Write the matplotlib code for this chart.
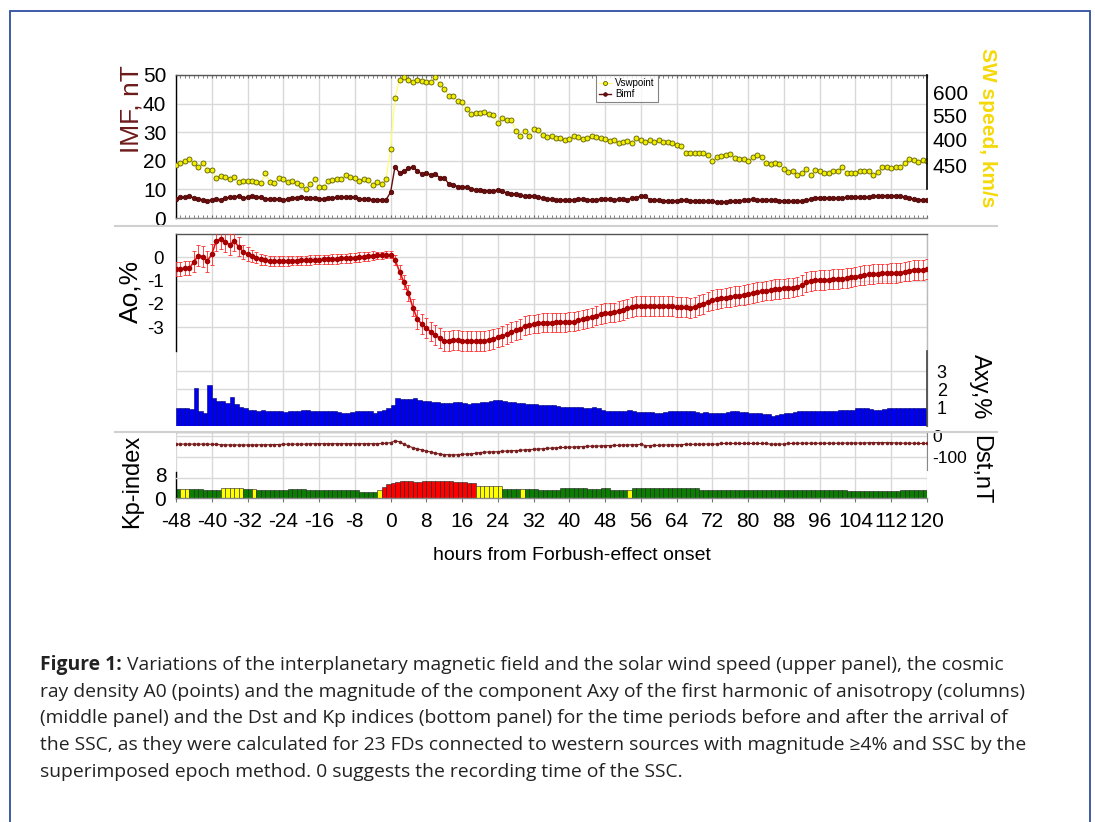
import numpy as np
import matplotlib
matplotlib.use("Agg")
import matplotlib.pyplot as plt
from matplotlib.patches import Rectangle
from matplotlib.lines import Line2D
from matplotlib.ticker import MultipleLocator

plt.rcParams['font.family'] = ['Liberation Sans', 'DejaVu Sans']
plt.rcParams['axes.unicode_minus'] = False

# ---- data (hourly, -48 .. 120 h from the Forbush-effect onset) ----
hours = list(range(-48, 121))
xticks = list(range(-48, 121, 8))

# solar wind speed, drawn on the IMF scale of the upper panel
vsw = [18.6, 19.2, 19.8, 20.7, 19.2, 18.0, 19.4, 16.9, 16.9, 14.0,
       14.8, 14.2, 13.7, 14.2, 12.6, 13.1, 12.9, 12.8, 12.6, 12.2,
       15.6, 12.6, 12.4, 14.0, 13.7, 12.7, 12.8, 12.2, 11.4, 10.2,
       12.0, 13.6, 10.7, 11.0, 13.1, 13.4, 13.6, 13.7, 14.9, 14.3,
       14.0, 12.8, 13.7, 13.4, 11.6, 12.6, 11.9, 13.7,
       24.2, 42.1, 48.3, 49.4, 48.3, 47.7, 48.3, 48.0, 47.6, 47.6,
       49.2, 46.7, 45.1, 42.7, 42.8, 40.9, 40.5, 38.0, 36.4, 36.6,
       36.6, 37.2, 36.4, 36.0, 33.1, 34.9, 34.3, 34.3, 30.5, 28.7,
       30.5, 28.7, 31.0, 30.6, 29.1, 28.3,
       28.7, 28.1, 27.9, 27.1, 27.7, 28.7, 28.3, 27.6, 28.1, 28.5,
       28.3, 28.1, 27.7, 27.0, 27.3, 26.2, 26.7, 27.0, 26.2, 27.9,
       27.1, 26.5, 27.3, 26.7, 27.1, 26.7, 26.4, 26.2, 25.6, 25.0,
       22.9, 22.7, 22.7, 22.9, 22.7, 22.1, 20.1, 21.3, 21.7, 21.9,
       22.3, 20.9, 20.7, 20.6, 20.1, 21.5, 22.1, 21.3, 19.2, 19.0,
       19.4, 19.0, 17.1, 16.0, 16.5, 15.1, 15.7, 17.1, 15.1, 16.9,
       16.3, 15.7, 15.7, 16.6, 16.3, 17.8, 15.7, 15.7, 15.7, 16.6,
       16.3, 16.6, 14.9, 16.0, 17.8, 17.8, 17.4, 17.8, 18.0, 19.2,
       20.6, 20.3, 19.5, 20.3, 20.1]

bimf = [6.6, 7.2, 7.2, 7.6, 7.0, 6.6, 6.4, 6.0, 6.4, 6.6,
        6.4, 7.0, 7.2, 7.2, 7.8, 7.0, 7.2, 7.6, 7.2, 7.2,
        6.6, 6.6, 6.6, 6.6, 6.4, 6.6, 7.0, 7.0, 7.2, 7.0,
        7.0, 7.0, 6.6, 6.6, 7.0, 7.0, 7.2, 7.2, 7.3, 7.2,
        7.2, 6.6, 6.6, 6.6, 6.4, 6.4, 6.4, 6.4,
        9.0, 18.0, 15.7, 16.3, 17.4, 17.8, 16.6, 15.3, 15.7, 15.1,
        15.5, 14.0, 14.0, 12.0, 11.7, 11.0, 11.0, 10.7, 10.2, 9.9,
        9.7, 9.6, 9.6, 9.3, 9.9, 9.3, 8.7, 8.5, 8.4, 7.9,
        7.6, 7.6, 7.6, 7.3, 7.0, 6.6,
        6.6, 6.4, 6.2, 6.2, 6.2, 6.4, 6.6, 6.6, 6.4, 6.4,
        6.4, 6.6, 6.6, 6.6, 6.4, 6.6, 6.6, 6.4, 7.0, 7.0,
        7.8, 7.6, 6.4, 6.2, 6.2, 6.0, 6.0, 6.0, 6.0, 6.2,
        6.2, 6.0, 6.0, 5.8, 5.8, 5.8, 5.8, 5.6, 5.6, 5.6,
        5.8, 5.8, 6.0, 6.2, 6.4, 6.6, 6.2, 6.2, 6.2, 6.2,
        6.2, 6.0, 6.0, 5.8, 5.8, 5.8, 5.8, 6.2, 6.6, 7.0,
        7.0, 7.0, 7.0, 7.0, 7.0, 7.0, 7.2, 7.2, 7.2, 7.2,
        7.3, 7.3, 7.6, 7.6, 7.8, 7.8, 7.8, 7.8, 7.6, 7.3,
        7.0, 6.6, 6.4, 6.4, 6.4]

a0 = [-0.51, -0.50, -0.47, -0.47, -0.19, 0.07, 0.03, -0.16, 0.13, 0.70,
      0.79, 0.67, 0.53, 0.70, 0.46, 0.24, 0.13, 0.06, -0.01, -0.09,
      -0.11, -0.16,
      -0.16, -0.16, -0.16, -0.16, -0.14, -0.14, -0.13, -0.13, -0.11, -0.10,
      -0.10, -0.09, -0.09, -0.07, -0.07, -0.04, -0.04, -0.03, -0.01, 0.01,
      0.03, 0.04, 0.07, 0.09, 0.09, 0.10,
      0.10, -0.11, -0.61, -1.07, -1.54, -2.16, -2.66, -2.87, -3.04, -3.19,
      -3.33, -3.47, -3.59, -3.59, -3.56, -3.54, -3.59, -3.59, -3.59, -3.61,
      -3.61, -3.59, -3.54, -3.50, -3.44, -3.37, -3.30, -3.21, -3.14, -3.07,
      -2.94, -2.90, -2.87, -2.83, -2.81, -2.80,
      -2.80, -2.79, -2.79, -2.79, -2.76, -2.76, -2.71, -2.66, -2.61, -2.57,
      -2.50, -2.44, -2.40, -2.37, -2.36, -2.30, -2.26, -2.19, -2.14, -2.10,
      -2.09, -2.09, -2.09, -2.09, -2.10, -2.10, -2.10, -2.11, -2.13, -2.14,
      -2.14, -2.16, -2.13, -2.04, -1.99, -1.90, -1.84, -1.79, -1.76, -1.73,
      -1.70, -1.67, -1.64, -1.61, -1.57, -1.54, -1.50, -1.46, -1.43, -1.40,
      -1.37, -1.36, -1.33, -1.31, -1.30, -1.26, -1.19, -1.07, -1.01, -0.99,
      -0.97, -0.97, -0.96, -0.94, -0.93, -0.91, -0.90, -0.86, -0.83, -0.79,
      -0.76, -0.73, -0.71, -0.70, -0.69, -0.69, -0.67, -0.67, -0.66, -0.61,
      -0.57, -0.54, -0.54, -0.53, -0.51]

a0_err = [0.30, 0.30, 0.30, 0.30, 0.45, 0.45, 0.45, 0.45, 0.45, 0.45,
          0.45, 0.45, 0.45, 0.45, 0.40, 0.30, 0.30, 0.25, 0.25, 0.25,
          0.22, 0.22, 0.20, 0.20, 0.20, 0.20, 0.20, 0.20, 0.20, 0.20,
          0.20, 0.20, 0.20, 0.20, 0.20, 0.20, 0.20, 0.20, 0.20, 0.20,
          0.20, 0.20, 0.18, 0.18, 0.18, 0.15, 0.15, 0.15,
          0.15, 0.20, 0.30, 0.30, 0.35, 0.35, 0.40, 0.42, 0.42, 0.42,
          0.42, 0.42, 0.43, 0.43, 0.43, 0.43, 0.43, 0.43, 0.43, 0.43,
          0.43, 0.43, 0.43, 0.42, 0.42, 0.42, 0.42, 0.42, 0.42, 0.42,
          0.41, 0.41, 0.40, 0.40, 0.40, 0.40,
          0.40, 0.40, 0.40, 0.40, 0.40, 0.40, 0.40, 0.41, 0.41, 0.41,
          0.42, 0.42, 0.42, 0.42, 0.42, 0.42, 0.42, 0.42, 0.42, 0.42,
          0.43, 0.43, 0.43, 0.43, 0.43, 0.43, 0.43, 0.43, 0.43, 0.43,
          0.43, 0.43, 0.43, 0.43, 0.43, 0.42, 0.42, 0.42, 0.42, 0.42,
          0.42, 0.42, 0.42, 0.42, 0.42, 0.42, 0.42, 0.42, 0.42, 0.42,
          0.42, 0.42, 0.42, 0.42, 0.42, 0.42, 0.42, 0.42, 0.42, 0.42,
          0.42, 0.42, 0.42, 0.42, 0.42, 0.42, 0.42, 0.42, 0.42, 0.42,
          0.42, 0.42, 0.42, 0.42, 0.42, 0.42, 0.42, 0.42, 0.42, 0.42,
          0.43, 0.43, 0.43, 0.43, 0.43]

axy = [1.00, 0.97, 0.97, 0.93, 2.09, 0.80, 0.69, 2.24, 1.51, 1.38,
       1.36, 1.24, 1.60, 1.20, 1.05, 0.97, 0.87,
       0.85, 0.82, 0.87, 0.80, 0.82, 0.80, 0.80, 0.75, 0.80, 0.82,
       0.84, 0.87, 0.87, 0.84, 0.82, 0.84, 0.84, 0.80, 0.80, 0.75,
       0.69, 0.69, 0.75, 0.80, 0.80, 0.80, 0.80, 0.69, 0.80, 0.87, 0.97,
       1.15,
       1.51, 1.47, 1.47, 1.45, 1.51, 1.42, 1.38, 1.36, 1.33, 1.33,
       1.28, 1.24, 1.24, 1.33, 1.29, 1.28, 1.20, 1.24, 1.24, 1.29,
       1.33, 1.36, 1.42, 1.42, 1.36, 1.33, 1.33, 1.28, 1.24, 1.20,
       1.18, 1.18, 1.15, 1.15, 1.15,
       1.15, 1.11, 1.05, 1.05, 1.02, 1.05, 1.05, 1.00, 1.00, 1.02, 1.00,
       0.87, 0.82, 0.82, 0.82, 0.84, 0.82, 0.85, 0.80, 0.75, 0.75,
       0.75, 0.75, 0.73, 0.73, 0.75, 0.80, 0.82, 0.80, 0.82, 0.82,
       0.80, 0.75, 0.69,
       0.75, 0.73, 0.69, 0.69, 0.73, 0.75, 0.80, 0.80, 0.75, 0.75,
       0.69, 0.69, 0.69, 0.66, 0.64,
       0.55, 0.60, 0.66, 0.69, 0.69, 0.75, 0.80, 0.80, 0.82, 0.82,
       0.80, 0.80, 0.82, 0.82, 0.84, 0.87, 0.87, 0.90, 0.90, 0.97,
       1.00, 0.97, 0.93, 0.90, 0.90, 0.93, 0.97, 0.97, 1.00, 1.00,
       1.00, 0.97, 1.00, 1.00, 1.00, 1.00]

dst = [-41, -41, -41, -41, -41, -41, -41, -41, -42, -42,
       -44, -44, -45, -45, -45, -45, -45, -45, -45, -44,
       -44, -44, -43, -43, -42,
       -41, -41, -41, -41, -41, -39, -39, -39, -39, -39,
       -39, -39, -39, -39, -39, -39, -39, -39, -39, -39,
       -39, -38, -37,
       -34, -25, -30, -41, -50, -58, -64, -68, -74, -78,
       -85, -88, -91, -91, -93, -91, -90, -88, -87, -85,
       -81, -80, -78, -78, -77, -75, -74, -72, -72, -71,
       -68, -67, -66, -64, -63, -61,
       -60, -58, -57, -57, -55, -55, -53, -53, -51, -51,
       -50, -50, -48, -48, -47, -47, -45, -45, -44, -44,
       -42, -48, -48, -47, -47,
       -45, -45, -44, -44, -44, -42, -42, -42, -42, -41,
       -41, -41, -41, -38, -38, -38, -38, -38, -38, -38,
       -38, -38, -38, -38, -41, -41, -41, -41, -38, -38,
       -37, -37, -37, -37, -37, -37, -37, -37, -37, -37,
       -37, -36, -36, -36, -36, -36, -34, -34, -34, -34,
       -34, -34, -36, -36, -37, -37, -37, -38, -38, -38]

kp = [3.2, 3.2, 3.2, 3.2, 3.2, 3.2, 2.8, 2.8, 2.8, 2.8,
      3.4, 3.4, 3.4, 3.4, 3.4, 3.2, 3.2, 3.2, 2.6, 2.6,
      2.6, 2.6, 2.6, 2.6, 2.6, 3.2, 3.2, 3.2, 3.2, 2.6,
      2.6, 2.6, 2.6, 2.6, 2.6, 2.6, 2.6, 2.6, 2.6, 2.6,
      2.6, 2.0, 2.0, 2.0, 2.0, 2.6, 3.7, 4.6, 5.1, 5.3,
      5.6, 5.6, 5.6, 5.4, 5.3, 5.7, 5.8, 5.8, 5.8, 5.8,
      5.7, 5.7, 5.5, 5.4, 5.4, 5.1, 5.1, 4.2, 4.1, 4.1,
      4.1, 4.1, 4.0, 2.9, 2.9, 2.9, 2.9, 2.9, 2.9, 2.9,
      2.9, 2.8, 2.8, 2.8, 2.8, 2.8, 3.4, 3.4, 3.4, 3.4,
      3.4, 3.4, 3.2, 3.2, 3.2, 3.4, 3.4, 2.8, 2.8, 2.8,
      2.8, 2.6, 3.4, 3.4, 3.4, 3.4, 3.4, 3.4, 3.4, 3.4,
      3.4, 3.4, 3.4, 3.4, 3.4, 3.4, 3.4, 2.8, 2.8, 2.8,
      2.8, 2.8, 2.8, 2.8, 2.8, 2.8, 2.8, 2.8, 2.8, 2.8,
      2.8, 2.8, 2.8, 2.8, 2.7, 2.7, 2.7, 2.7, 2.7, 2.7,
      2.7, 2.7, 2.7, 2.7, 2.7, 2.7, 2.7, 2.7, 2.7, 2.7,
      2.4, 2.4, 2.4, 2.4, 2.4, 2.4, 2.4, 2.4, 2.4, 2.4,
      2.4, 2.4, 2.8, 2.8, 2.8, 2.8, 2.8, 2.8, 2.8]

# colour class of each Kp column: g = green, y = yellow, r = red
kp_cls = ("gyyggggggg" "yyyyyggygg" "gggggggggg" "gggggggggg"
          "gggggyrrrr" "rrrrrrrrrr" "rrrrrrryyy" "yyyggggygg"
          "gggggggggg" "gggggggggg" "gygggggggg" "gggggggggg"
          "gggggggggg" "gggggggggg" "gggggggggg" "gggggggggg"
          "ggggggggg")

sw_tick_pos = [44, 36, 27.3, 18.5]
sw_tick_labels = ['600', '550', '400', '450']

caption = [
    "Variations of the interplanetary magnetic field and the solar wind speed (upper panel), the cosmic",
    "ray density A0 (points) and the magnitude of the component Axy of the first harmonic of anisotropy (columns)",
    "(middle panel) and the Dst and Kp indices (bottom panel) for the time periods before and after the arrival of",
    "the SSC, as they were calculated for 23 FDs connected to western sources with magnitude \u22654% and SSC by the",
    "superimposed epoch method. 0 suggests the recording time of the SSC.",
]

# ---- layout helpers (pixel -> figure fraction) ----
W, H = 1095, 822
def fx(px):
    return px / W
def fy(py):
    return 1 - py / H

grid_c = '#d9d9d9'
fig = plt.figure(figsize=(10.95, 8.22), dpi=100)
fig.patch.set_facecolor('white')

L, R = 176, 927
ax1 = fig.add_axes([fx(L), fy(218), (R - L) / W, 143 / H])
ax2 = fig.add_axes([fx(L), fy(426), (R - L) / W, 192 / H])
ax3 = fig.add_axes([fx(L), fy(498), (R - L) / W, 66 / H])

for ax in (ax1, ax2, ax3):
    ax.set_xlim(-48, 120)
    ax.set_xticks(xticks)
    ax.grid(True, color=grid_c, lw=1)
    ax.set_axisbelow(True)
    for s in ax.spines.values():
        s.set_color('#888888')
        s.set_linewidth(1)

# ---- upper panel: IMF and solar wind ----
ax1.plot(hours, vsw, color='#ffff70', lw=0.9, marker='o', ms=3.6,
         mfc='#f2ee00', mec='#5c5c00', mew=0.6, label='Vswpoint', zorder=3)
ax1.plot(hours, bimf, color='#6a0d0d', lw=1.0, marker='o', ms=3.3,
         mfc='#6a0d0d', mec='#470000', mew=0.5, label='Bimf', zorder=4)
ax1.set_ylim(0, 50)
ax1.set_yticks(range(0, 51, 10))
ax1.tick_params(axis='y', labelsize=15, length=0, pad=7)
ax1.tick_params(axis='x', labelbottom=False, length=0)
ax1.xaxis.set_minor_locator(MultipleLocator(1))
ax1.tick_params(axis='x', which='both', top=True, direction='in',
                length=2, color='#666666')
ax1.spines['left'].set_color('black')
ax1.spines['top'].set_color('#555555')
ax1.spines['right'].set_visible(False)

ax1r = ax1.twinx()
ax1r.set_ylim(0, 50)
ax1r.set_yticks(sw_tick_pos)
ax1r.set_yticklabels(sw_tick_labels)
ax1r.tick_params(axis='y', labelsize=15, length=0, pad=4)
for k in ('left', 'top', 'bottom'):
    ax1r.spines[k].set_visible(False)
ax1r.spines['right'].set_bounds(10, 50)
ax1r.spines['right'].set_color('black')
ax1r.spines['right'].set_linewidth(1.2)

leg = ax1.legend(loc='upper left', bbox_to_anchor=(fx(596), fy(75)),
                 bbox_transform=fig.transFigure, fontsize=7, frameon=True,
                 fancybox=False, edgecolor='#666666', handlelength=1.2,
                 borderpad=0.3, labelspacing=0.15, handletextpad=0.5,
                 markerscale=0.8, borderaxespad=0)
leg.get_frame().set_linewidth(0.8)

# ---- middle panel: A0 and Axy ----
ax2.errorbar(hours, a0, yerr=a0_err, fmt='-o', color='#e8141a', lw=1.2,
             ms=3, mfc='#a80000', mec='#a80000', ecolor='#ff2a2a',
             elinewidth=0.6, capsize=1.2, capthick=0.6, zorder=3)
ax2.set_ylim(1 - 192 / 23.3, 1)
ax2.set_yticks([0, -1, -2, -3])
ax2.tick_params(axis='y', labelsize=13.5, length=0, pad=9)
ax2.tick_params(axis='x', labelbottom=False, length=0)
ax2.spines['left'].set_bounds(-4, 1)
ax2.spines['left'].set_color('black')
ax2.spines['top'].set_color('#555555')
ax2.spines['bottom'].set_visible(False)
ax2.spines['right'].set_color('#bbbbbb')

ax2r = ax2.twinx()
ax2r.bar(hours, axy, width=1, align='edge', color='#0000f0',
         edgecolor='#00006e', lw=0.4, zorder=2)
ax2r.set_ylim(0, 192 / 18.3)
ax2r.set_yticks([1, 2, 3])
ax2r.tick_params(axis='y', labelsize=13, length=0, pad=7)
ax2r.grid(True, axis='y', color=grid_c, lw=1)
ax2r.set_axisbelow(True)
ax2r.yaxis.get_gridlines()[0].set_visible(False)
for k in ('left', 'top', 'bottom'):
    ax2r.spines[k].set_visible(False)
ax2r.spines['right'].set_bounds(0, 4.1)
ax2r.spines['right'].set_color('#444444')
ax2r.spines['right'].set_linewidth(1.2)

# ---- bottom panel: Kp and Dst ----
kp_colors = {'g': '#0b7d00', 'y': '#ffff00', 'r': '#ff0000'}
ax3.bar(hours, kp, width=1, align='edge', color=[kp_colors[c] for c in kp_cls],
        edgecolor='#202020', lw=0.4, zorder=2)
ax3.set_ylim(0, 66 / 2.96)
ax3.set_yticks([0, 8])
ax3.grid(False, axis='y')
ax3.tick_params(axis='y', labelsize=15, length=0, pad=7)
ax3.tick_params(axis='x', labelsize=15, length=3, pad=7, color='#777777')
ax3.spines['left'].set_bounds(0, 8.8)
ax3.spines['left'].set_color('black')
ax3.spines['right'].set_visible(False)

ax3r = ax3.twinx()
ax3r.plot(hours, dst, color='#7a1f1f', lw=0.8, marker='o', ms=1.6, zorder=3)
ax3r.set_ylim(-297.6, 16.7)
ax3r.set_yticks([0, -100, -200])
ax3r.set_yticklabels(['0', '-100', ''])
ax3r.grid(True, axis='y', color=grid_c, lw=1)
ax3r.set_axisbelow(True)
ax3r.tick_params(axis='y', labelsize=12.5, length=0, pad=4)
for k in ('left', 'top', 'bottom'):
    ax3r.spines[k].set_visible(False)
ax3r.spines['right'].set_bounds(-165, 16.7)
ax3r.spines['right'].set_color('#888888')

# ---- separators and border ----
for py in (226, 432):
    fig.add_artist(Line2D([fx(115), fx(997)], [fy(py), fy(py)],
                          color='#d0d0d0', lw=1.5, transform=fig.transFigure))
fig.add_artist(Rectangle((fx(10), -0.05), fx(1090) - fx(10), fy(11) + 0.05,
                         fill=False, edgecolor='#2e4fa0', lw=1.3,
                         transform=fig.transFigure))

# ---- axis titles ----
fig.text(fx(131), fy(109), 'IMF, nT', rotation=90, ha='center', va='center',
         fontsize=19, color='#6d1a1a')
fig.text(fx(987), fy(128), 'SW speed, km/s', rotation=270, ha='center',
         va='center', fontsize=15, fontweight='bold', color='#f5d90a')
fig.text(fx(130), fy(291), 'Ao,%', rotation=90, ha='center', va='center',
         fontsize=19)
fig.text(fx(980), fy(387), 'Axy,%', rotation=270, ha='center', va='center',
         fontsize=17)
fig.text(fx(132), fy(481), 'Kp-index', rotation=90, ha='center', va='center',
         fontsize=17)
fig.text(fx(980), fy(470), 'Dst,nT', rotation=270, ha='center', va='center',
         fontsize=17)
fig.text(fx(572), fy(555), 'hours from Forbush-effect onset', ha='center',
         va='center', fontsize=14)

# ---- caption ----
cap_font = ['Open Sans', 'DejaVu Sans']
cap_size = 13.9
renderer = fig.canvas.get_renderer()
t = fig.text(fx(40), fy(665), 'Figure 1:', fontsize=cap_size, fontweight='bold',
             family=cap_font, va='center', color='#222222')
bb = t.get_window_extent(renderer=renderer)
fig.text(bb.x1 / fig.bbox.width + fx(5), fy(665), caption[0], fontsize=cap_size,
         family=cap_font, va='center', color='#222222')
for i, line in enumerate(caption[1:]):
    fig.text(fx(40), fy(665 + 26.7 * (i + 1)), line, fontsize=cap_size,
             family=cap_font, va='center', color='#222222')

fig.savefig('out.png', dpi=100)
